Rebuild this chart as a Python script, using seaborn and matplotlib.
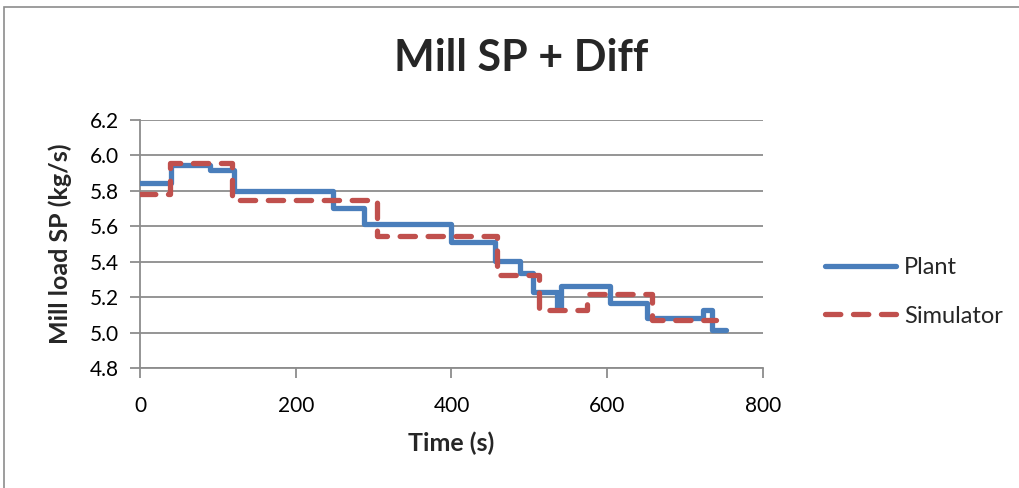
import matplotlib
matplotlib.use("Agg")
import matplotlib.pyplot as plt
import matplotlib.patches as mpatches
import numpy as np
import pandas as pd
import seaborn as sns

# Step-change times (s) and set-point values (kg/s) for each series
plant_time = [0, 40, 90, 121, 248, 287, 400, 456, 488, 505, 535, 541, 603, 651, 723, 734, 752]
plant_sp = [5.845, 5.945, 5.915, 5.80, 5.705, 5.615, 5.51, 5.405, 5.335, 5.23, 5.14, 5.265,
            5.165, 5.08, 5.13, 5.015, 5.015]
sim_time = [0, 38, 118, 304, 458, 513, 574, 657, 740]
sim_sp = [5.785, 5.955, 5.75, 5.545, 5.325, 5.125, 5.22, 5.07, 5.07]

x_ticks = [0, 200, 400, 600, 800]
y_ticks = [4.8, 5.0, 5.2, 5.4, 5.6, 5.8, 6.0, 6.2]

title = "Mill SP + Diff"
x_label = "Time (s)"
y_label = "Mill load SP (kg/s)"
series_names = ["Plant", "Simulator"]

BLUE = "#4A7EBB"
RED = "#C0504D"
GRID = "#8C8C8C"

sns.set_theme(style="white")
plt.rcParams["font.family"] = ["Lato", "DejaVu Sans"]

fig = plt.figure(figsize=(10.2, 4.88), dpi=100)
ax = fig.add_axes([140 / 1020, 1 - 368 / 488, (763 - 140) / 1020, (368 - 120) / 488])

plant_df = pd.DataFrame({"t": plant_time, "sp": plant_sp})
sim_df = pd.DataFrame({"t": sim_time, "sp": sim_sp})

sns.lineplot(data=plant_df, x="t", y="sp", ax=ax, drawstyle="steps-post",
             color=BLUE, linewidth=3.8, label=series_names[0],
             solid_joinstyle="round", solid_capstyle="round", zorder=3)
sns.lineplot(data=sim_df, x="t", y="sp", ax=ax, drawstyle="steps-post",
             color=RED, linewidth=3.8, label=series_names[1],
             linestyle=(0, (2.9, 2.4)), dash_capstyle="round",
             dash_joinstyle="round", zorder=4)

ax.set_xlim(0, 800)
ax.set_ylim(4.8, 6.2)
ax.set_xticks(x_ticks)
ax.set_yticks(y_ticks)
ax.set_xticklabels([str(v) for v in x_ticks])
ax.set_yticklabels([f"{v:.1f}" for v in y_ticks])

ax.grid(axis="y", color=GRID, linewidth=1.3)
ax.grid(axis="x", visible=False)
ax.set_axisbelow(True)

for side in ("top", "right"):
    ax.spines[side].set_visible(False)
for side in ("left", "bottom"):
    ax.spines[side].set_color(GRID)
    ax.spines[side].set_linewidth(1.3)

ax.tick_params(axis="both", which="major", length=7, width=1.3, color=GRID,
               labelsize=15, labelcolor="black", direction="out",
               left=True, bottom=True)
ax.tick_params(axis="x", pad=13)
ax.tick_params(axis="y", pad=8)

ax.set_xlabel(x_label, fontsize=18, fontweight="bold", labelpad=11)
ax.set_ylabel(y_label, fontsize=18, fontweight="bold", labelpad=13)

fig.text(521 / 1020, 1 - 58 / 488, title, fontsize=31, fontweight="bold",
         ha="center", va="center")

leg = ax.legend(loc="center left", bbox_to_anchor=(804 / 1020, 1 - 292 / 488),
                bbox_transform=fig.transFigure, frameon=False, fontsize=17,
                handlelength=3.0, handletextpad=0.35, labelspacing=1.15)

# Chart-area border
fig.patches.append(mpatches.Rectangle((4 / 1020, -0.1), 1.2, 1 - 7 / 488 + 0.1,
                                      transform=fig.transFigure, fill=False,
                                      edgecolor="#8C8C8C", linewidth=1.2))

fig.savefig("out.png", dpi=100)
